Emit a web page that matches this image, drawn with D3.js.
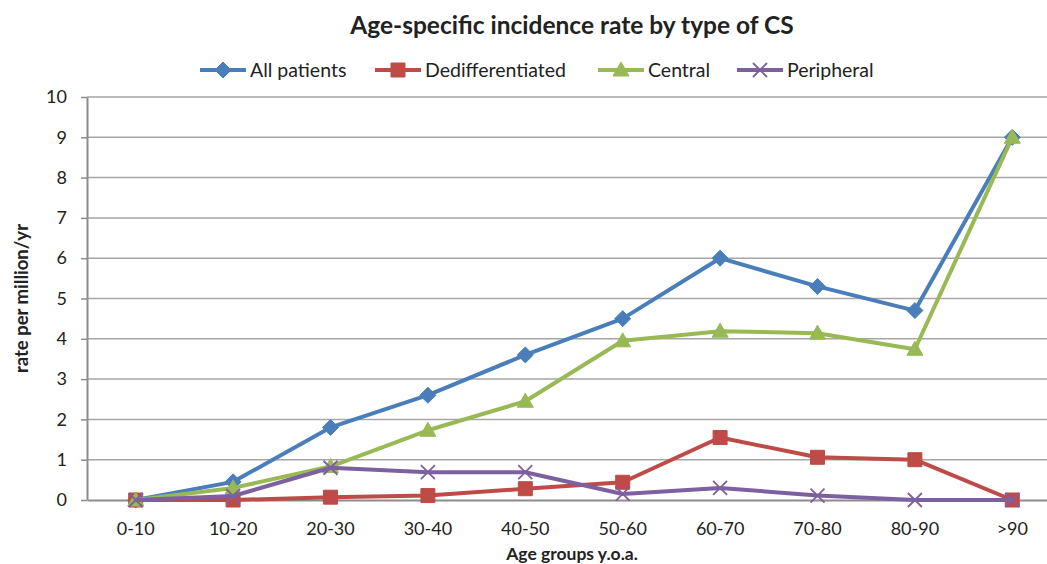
<!DOCTYPE html>
<html>
<head>
<meta charset="utf-8">
<script src="https://cdn.jsdelivr.net/npm/d3@7"></script>
<style>
  html, body { margin: 0; padding: 0; background: #fff; }
  svg { display: block; font-family: Lato, "Open Sans", sans-serif; }
</style>
</head>
<body>
<svg id="chart" width="1047" height="564"></svg>
<script>
// Age groups (x categories)
const ageGroups = ["0-10", "10-20", "20-30", "30-40", "40-50", "50-60", "60-70", "70-80", "80-90", ">90"];

// Incidence rate per million per year, by type
const allPatients      = [0, 0.45, 1.8, 2.6, 3.6, 4.5, 6.0, 5.3, 4.7, 9.0];
const dedifferentiated = [0, 0, 0.07, 0.11, 0.28, 0.44, 1.55, 1.06, 1.0, 0];
const central          = [0, 0.3, 0.83, 1.73, 2.45, 3.95, 4.19, 4.14, 3.74, 9.0];
const peripheral       = [0, 0.1, 0.8, 0.69, 0.69, 0.15, 0.3, 0.11, 0, 0];

const yTicks = [0, 1, 2, 3, 4, 5, 6, 7, 8, 9, 10];

const seriesNames  = ["All patients", "Dedifferentiated", "Central", "Peripheral"];
const seriesColors = ["#4a7ebb", "#be4b48", "#98b954", "#7d60a0"];
const seriesShapes = ["diamond", "square", "triangle", "cross"];

const series = [allPatients, dedifferentiated, central, peripheral].map((values, i) => ({
  name: seriesNames[i], color: seriesColors[i], shape: seriesShapes[i], values
}));

const svg = d3.select("#chart");
const plot = { left: 87, top: 97, right: 1061, bottom: 500 };

const x = d3.scaleBand().domain(ageGroups).range([plot.left, plot.right]);
const y = d3.scaleLinear().domain([0, 10]).range([plot.bottom, plot.top]);
const cx = d => x(d) + x.bandwidth() / 2;

// Horizontal gridlines
svg.append("g")
  .selectAll("line")
  .data(yTicks.filter(t => t > 0))
  .join("line")
  .attr("x1", plot.left).attr("x2", plot.right)
  .attr("y1", d => y(d)).attr("y2", d => y(d))
  .attr("stroke", "#a6a6a6").attr("stroke-width", 1.5);

// Y axis with short outside ticks
const yAxis = svg.append("g")
  .attr("transform", `translate(${plot.left},0)`)
  .call(d3.axisLeft(y).tickValues(yTicks).tickSize(6).tickSizeOuter(0).tickPadding(14));
yAxis.select(".domain").attr("stroke", "#8c8c8c").attr("stroke-width", 2);
yAxis.selectAll(".tick line").attr("stroke", "#8c8c8c").attr("stroke-width", 1.5);
yAxis.selectAll("text").attr("font-size", 18).attr("fill", "#222")
  .attr("font-family", "Lato, sans-serif");

// X axis
const xAxis = svg.append("g")
  .attr("transform", `translate(0,${plot.bottom})`)
  .call(d3.axisBottom(x).tickSize(0).tickPadding(22));
xAxis.select(".domain").attr("stroke", "#8c8c8c").attr("stroke-width", 2);
xAxis.selectAll("text").attr("font-size", 18).attr("fill", "#222")
  .attr("font-family", "Lato, sans-serif");

// Marker paths
function markerPath(shape) {
  switch (shape) {
    case "diamond": return "M0,-8L8,0L0,8L-8,0Z";
    case "square": return "M-7,-7H7V7H-7Z";
    case "triangle": return "M0,-8L8,6H-8Z";
    case "cross": return "M-7,-7L7,7M7,-7L-7,7";
  }
}

const line = d3.line().x((d, i) => cx(ageGroups[i])).y(d => y(d));

const seriesG = svg.append("g").selectAll("g").data(series).join("g");
seriesG.append("path")
  .attr("d", d => line(d.values))
  .attr("fill", "none")
  .attr("stroke", d => d.color)
  .attr("stroke-width", 4)
  .attr("stroke-linejoin", "round");

seriesG.each(function (s) {
  d3.select(this).selectAll("path.marker")
    .data(s.values)
    .join("path")
    .attr("class", "marker")
    .attr("transform", (d, i) => `translate(${cx(ageGroups[i])},${y(d)})`)
    .attr("d", markerPath(s.shape))
    .attr("fill", s.shape === "cross" ? "none" : s.color)
    .attr("stroke", s.color)
    .attr("stroke-width", s.shape === "cross" ? 1.8 : 1);
});

// Title
svg.append("text")
  .attr("x", 572).attr("y", 34)
  .attr("text-anchor", "middle")
  .attr("font-size", 24.5).attr("font-weight", "bold").attr("fill", "#222")
  .text("Age-specific incidence rate by type of CS");

// Legend
const legendX = [200, 375, 598, 737];
const legend = svg.append("g").selectAll("g").data(series).join("g")
  .attr("transform", (d, i) => `translate(${legendX[i]},70)`);
legend.append("line")
  .attr("x1", 0).attr("x2", 46)
  .attr("stroke", d => d.color).attr("stroke-width", 4);
legend.append("path")
  .attr("transform", "translate(23,0)")
  .attr("d", d => markerPath(d.shape))
  .attr("fill", d => d.shape === "cross" ? "none" : d.color)
  .attr("stroke", d => d.color)
  .attr("stroke-width", d => d.shape === "cross" ? 1.8 : 1);
legend.append("text")
  .attr("x", 50).attr("y", 7)
  .attr("font-size", 19.5).attr("fill", "#222")
  .text(d => d.name);

// Axis titles
svg.append("text")
  .attr("x", 572).attr("y", 560)
  .attr("text-anchor", "middle")
  .attr("font-size", 17.5).attr("font-weight", "bold").attr("fill", "#222")
  .text("Age groups y.o.a.");

svg.append("text")
  .attr("transform", `translate(28,${(plot.top + plot.bottom) / 2}) rotate(-90)`)
  .attr("text-anchor", "middle")
  .attr("font-size", 18.5).attr("font-weight", "bold").attr("fill", "#222")
  .text("rate per million/yr");
</script>
</body>
</html>
